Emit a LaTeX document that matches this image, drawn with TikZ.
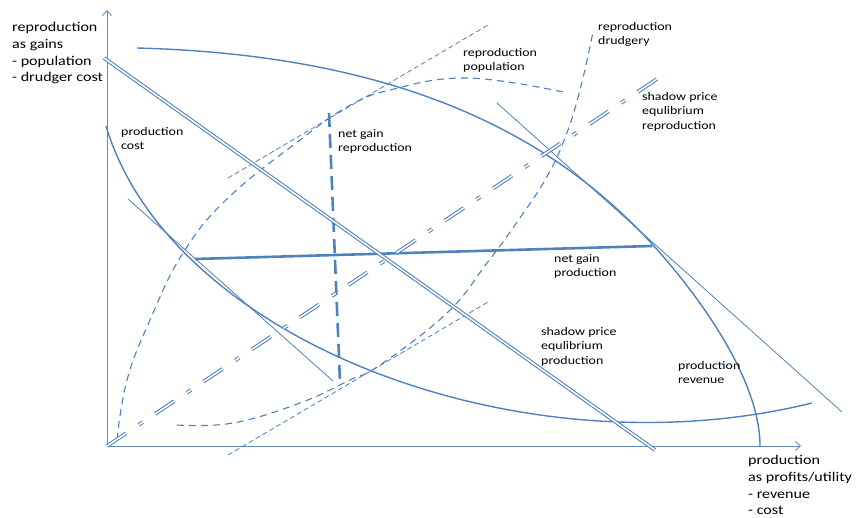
\documentclass[tikz,border=0pt]{standalone}
\usepackage{fontspec}
\setmainfont{Carlito}[FakeStretch=1.2]
\usepackage{tikz}
\usetikzlibrary{arrows.meta}
\definecolor{curveblue}{RGB}{79,129,189}
\definecolor{axisblue}{RGB}{100,138,190}

\begin{document}
\begin{tikzpicture}[x=1pt,y=-1pt,
   font=\fontsize{11.6}{14.5}\selectfont,
   every node/.style={inner sep=0pt,align=left,anchor=north west},
   axislabel/.style={font=\fontsize{13.4}{16.8}\selectfont},
   axis/.style={-{Straight Barb[length=5pt,width=9pt]},axisblue,line width=0.9pt},
   curve/.style={curveblue,line width=1.4pt},
   tangent/.style={curveblue,line width=0.8pt},
   fine/.style={curveblue,line width=0.8pt,dash pattern=on 5pt off 3pt},
   dashcurve/.style={curveblue,line width=1.1pt,dash pattern=on 7pt off 5pt},
   gain/.style={curveblue,line width=2.6pt},
   gaindash/.style={gain,dash pattern=on 14pt off 7pt},
   shadow/.style={draw=curveblue,double=white,double distance=1.6pt,line width=1.05pt},
   shadowdash/.style={shadow,dash pattern=on 23pt off 15pt on 5pt off 15pt}]
\useasboundingbox (0,0) rectangle (856,518);
% axes
\coordinate (O) at (107,446);
\coordinate (ytop) at (107,10);
\coordinate (xend) at (801,446);
\draw[axis] (O) -- (ytop);
\draw[axis] (O) -- (xend);
\node[axislabel] (ylab) at (12,22) {reproduction\\as gains\\- population\\- drudger cost};
\node[axislabel] (xlab) at (748,455) {production\\as profits/utility\\- revenue\\- cost};
% production revenue and cost
\coordinate (rev) at (653,245);
\draw[curve] (137,48) .. controls (400,55) and (553,135) .. (rev)
   .. controls (700,297) and (760,380) .. (760,446);
\draw[curve] (106,126) .. controls (170,340) and (520,475) .. (812,403);
% tangents
\coordinate (tc1) at (128,199);
\coordinate (tc2) at (333,381);
\coordinate (tr1) at (497,103);
\coordinate (tr2) at (842,412);
\draw[tangent] (tc1) -- (tc2);
\draw[tangent] (tr1) -- (tr2);
% reproduction curves
\draw[dashcurve] plot[smooth,tension=0.7] coordinates {(117,440) (127,380) (150,320) (183,253) (228,198) (300,140) (347,107) (390,90) (467,78) (563,92)};
\draw[dashcurve] plot[smooth,tension=0.7] coordinates {(177,425) (233,423) (300,403) (350,380) (380,365) (447,313) (487,263) (515,225) (545,180) (565,138) (580,90) (593,32)};
\coordinate (fa1) at (228,178);
\coordinate (fa2) at (488,25);
\coordinate (fb1) at (228,455);
\coordinate (fb2) at (488,302);
\draw[fine] (fa1) -- (fa2);
\draw[fine] (fb1) -- (fb2);
% net gains
\coordinate (ngp1) at (195,259);
\coordinate (ngp2) at (652,246);
\coordinate (ngr1) at (329,113);
\coordinate (ngr2) at (340,382);
\draw[gain] (ngp1) -- (ngp2);
\draw[gaindash] (ngr1) -- (ngr2);
% shadow prices
\coordinate (spp1) at (104,58);
\coordinate (spp2) at (655,450);
\coordinate (spr2) at (660,77);
\draw[shadow] (spp1) -- (spp2);
\draw[shadowdash] (O) -- (spr2);
% labels
\node (pcost) at (121,127) {production\\cost};
\node (ngrep) at (338,129) {net gain\\reproduction};
\node (reppop) at (463,48) {reproduction\\population};
\node (repdrud) at (598,22) {reproduction\\drudgery};
\node (sprep) at (642,92) {shadow price\\equlibrium\\reproduction};
\node (ngprod) at (554,254) {net gain\\production};
\node (spprod) at (541,327) {shadow price\\equlibrium\\production};
\node (prev) at (678,361) {production\\revenue};
\end{tikzpicture}
\end{document}
